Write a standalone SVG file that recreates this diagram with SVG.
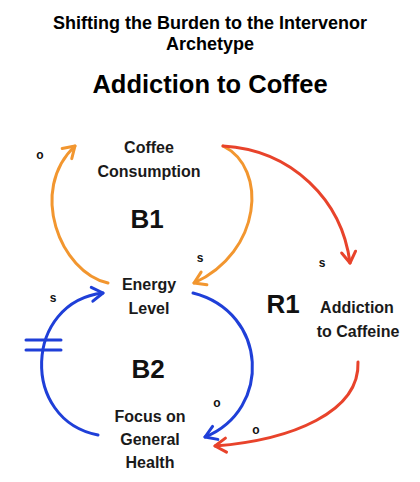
<svg xmlns="http://www.w3.org/2000/svg" width="420" height="482" viewBox="0 0 420 482">
<style>
.title{font-family:"Liberation Sans",Arial,sans-serif;font-weight:bold;fill:#000;text-anchor:middle}
.node{font-family:"Liberation Sans",Arial,sans-serif;font-weight:bold;font-size:16px;fill:#1a1a1a;text-anchor:middle}
.loop{font-family:"Liberation Sans",Arial,sans-serif;font-weight:bold;font-size:26px;fill:#111;text-anchor:middle}
.pol{font-family:"Liberation Sans",Arial,sans-serif;font-weight:bold;font-size:12px;fill:#111;text-anchor:middle}
.c{fill:none;stroke-width:3;stroke-linecap:round}
.or{stroke:#f2962f}.rd{stroke:#e8432b}.bl{stroke:#1f3fd8}
</style>
<defs>
<marker id="mo" markerUnits="userSpaceOnUse" markerWidth="20" markerHeight="20" refX="0" refY="0" viewBox="-14 -10 18 20" orient="auto"><path d="M-11,-7 L0,0 L-11,7" fill="none" stroke="#f2962f" stroke-width="3" stroke-linecap="round" stroke-linejoin="round"/></marker>
<marker id="mr" markerUnits="userSpaceOnUse" markerWidth="20" markerHeight="20" refX="0" refY="0" viewBox="-14 -10 18 20" orient="auto"><path d="M-11,-7 L0,0 L-11,7" fill="none" stroke="#e8432b" stroke-width="3" stroke-linecap="round" stroke-linejoin="round"/></marker>
<marker id="mb" markerUnits="userSpaceOnUse" markerWidth="20" markerHeight="20" refX="0" refY="0" viewBox="-14 -10 18 20" orient="auto"><path d="M-11,-7 L0,0 L-11,7" fill="none" stroke="#1f3fd8" stroke-width="3" stroke-linecap="round" stroke-linejoin="round"/></marker>
</defs>
<rect width="420" height="482" fill="#fff"/>
<g id="title">
<text class="title" x="210" y="29" font-size="18">Shifting the Burden to the Intervenor</text>
<text class="title" x="210" y="50" font-size="18">Archetype</text>
<text class="title" x="210" y="93" font-size="25.5">Addiction to Coffee</text>
</g>
<g id="connectors">
<path class="c or" d="M108,283 C60,272 28,190 75,146" marker-end="url(#mo)"/>
<path class="c or" d="M223,146 C268,168 262,252 194,283" marker-end="url(#mo)"/>
<path class="c rd" d="M223,146 C292,150 342,200 350,263" marker-end="url(#mr)"/>
<path class="c rd" d="M358,362 C360,412 292,440 215,446" marker-end="url(#mr)"/>
<path class="c bl" d="M193,293 C268,312 272,410 205,437" marker-end="url(#mb)"/>
<path class="c bl" d="M98,435 C20,420 24,302 103,293" marker-end="url(#mb)"/>
<line class="c bl" x1="26" y1="340" x2="61" y2="340" stroke-linecap="butt"/>
<line class="c bl" x1="26" y1="350" x2="61" y2="350" stroke-linecap="butt"/>
</g>
<g id="polarities">
<text class="pol" x="40" y="159">o</text>
<text class="pol" x="200" y="262">s</text>
<text class="pol" x="322" y="267">s</text>
<text class="pol" x="53" y="302">s</text>
<text class="pol" x="217" y="407">o</text>
<text class="pol" x="256" y="434">o</text>
</g>
<g id="loops">
<text class="loop" x="147" y="228">B1</text>
<text class="loop" x="148" y="378">B2</text>
<text class="loop" x="283" y="313">R1</text>
</g>
<g id="coffee-consumption">
<text class="node" x="149" y="153">Coffee</text>
<text class="node" x="149" y="177">Consumption</text>
</g>
<g id="energy-level">
<text class="node" x="149" y="290">Energy</text>
<text class="node" x="149" y="314">Level</text>
</g>
<g id="focus-health">
<text class="node" x="150" y="422">Focus on</text>
<text class="node" x="150" y="445">General</text>
<text class="node" x="150" y="468">Health</text>
</g>
<g id="addiction-caffeine">
<text class="node" x="357" y="313">Addiction</text>
<text class="node" x="358" y="337">to Caffeine</text>
</g>
</svg>
